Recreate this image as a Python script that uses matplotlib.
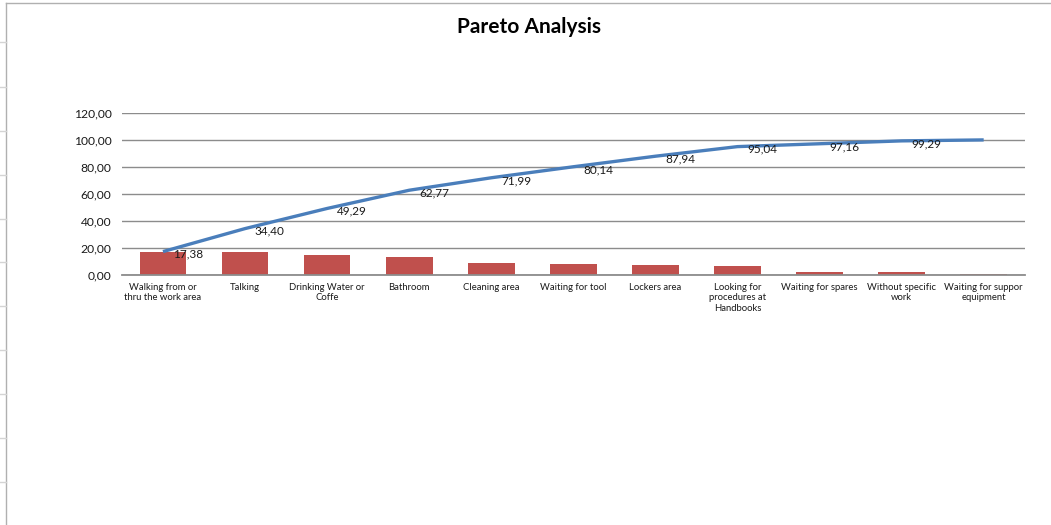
import numpy as np
import matplotlib.pyplot as plt
from matplotlib.lines import Line2D

categories = [
    "Walking from or\nthru the work area",
    "Talking",
    "Drinking Water or\nCoffe",
    "Bathroom",
    "Cleaning area",
    "Waiting for tool",
    "Lockers area",
    "Looking for\nprocedures at\nHandbooks",
    "Waiting for spares",
    "Without specific\nwork",
    "Waiting for suppor\nequipment",
]
share = [17.38, 17.02, 14.89, 13.48, 9.22, 8.15, 7.80, 7.10, 2.12, 2.13, 0.71]
cumulative = [17.38, 34.40, 49.29, 62.77, 71.99, 80.14, 87.94, 95.04, 97.16, 99.29, 100.00]
y_ticks = [0, 20, 40, 60, 80, 100, 120]

plt.rcParams['font.family'] = ['Lato', 'DejaVu Sans']

fig = plt.figure(figsize=(10.51, 5.25), dpi=100)
ax = fig.add_axes([0.116, 0.476, 0.859, 0.309])

x = np.arange(len(categories))
ax.bar(x, share, width=0.57, color='#C0504D', zorder=2)
ax.plot(x, cumulative, color='#4A7EBB', linewidth=2.4, zorder=3, solid_capstyle='butt')

for xi, yi in zip(x[:-1], cumulative[:-1]):
    ax.annotate(f"{yi:.2f}".replace('.', ','), (xi, yi), xytext=(7, -2),
                textcoords='offset points', ha='left', va='center',
                fontsize=8.5, color='#1a1a1a', zorder=4)

ax.set_xlim(-0.5, len(categories) - 0.5)
ax.set_ylim(0, 120)
ax.set_yticks(y_ticks)
ax.set_yticklabels([f"{t:.2f}".replace('.', ',') for t in y_ticks], fontsize=8.7, color='#1a1a1a')
ax.set_xticks(x)
ax.set_xticklabels(categories, fontsize=6.8, color='#1a1a1a', linespacing=1.15)
ax.tick_params(axis='x', length=0, pad=6)
ax.tick_params(axis='y', length=0, pad=7.5)
ax.yaxis.grid(True, color='#8c8c8c', linewidth=1)
ax.set_axisbelow(True)
for side in ['top', 'right', 'left']:
    ax.spines[side].set_visible(False)
ax.spines['bottom'].set_color('#8c8c8c')
ax.spines['bottom'].set_linewidth(1.3)
ax.spines['bottom'].set_zorder(2.5)

fig.text(0.503, 0.948, "Pareto Analysis", ha='center', va='center',
         fontsize=15, fontweight='bold', color='black')

# sheet cell borders peeking around the chart frame
W, H = 1051, 525
fig.add_artist(Line2D([6 / W, 6 / W], [0, 1 - 3 / H], color='#b0b0b0', linewidth=1))
fig.add_artist(Line2D([6 / W, 1], [1 - 3 / H, 1 - 3 / H], color='#b0b0b0', linewidth=1))
for yy in [42, 87, 131, 175, 219, 262, 306, 350, 394, 438, 482]:
    fig.add_artist(Line2D([0, 6 / W], [1 - yy / H, 1 - yy / H], color='#d4d4d4', linewidth=1))

fig.savefig('out.png', dpi=100)
